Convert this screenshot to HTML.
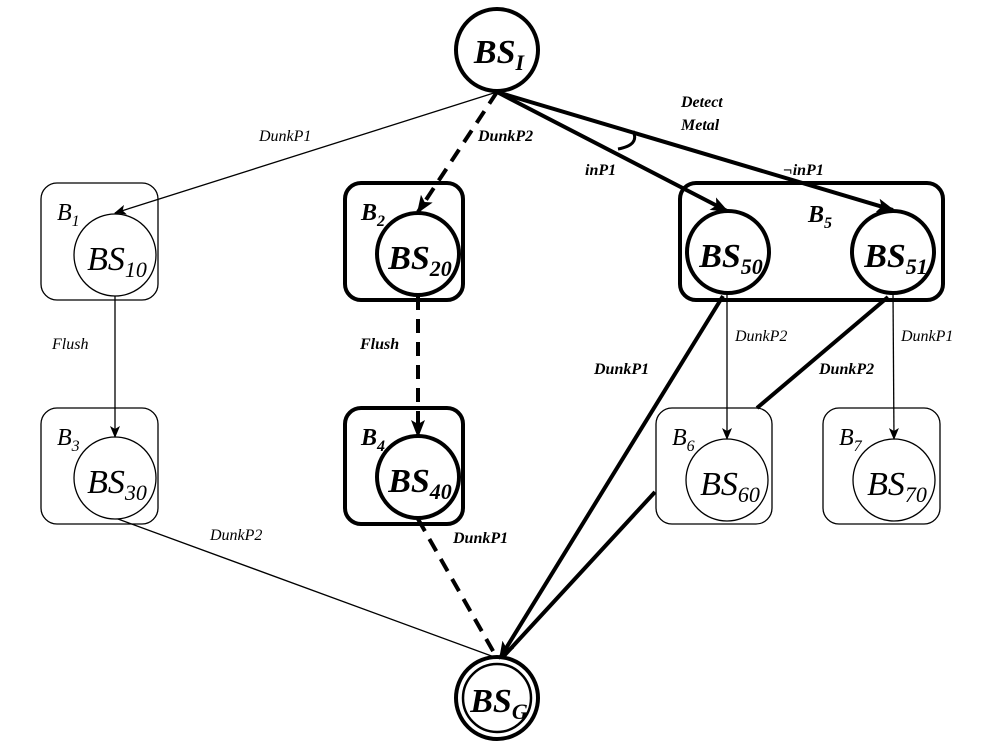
<!DOCTYPE html><html><head><style>body{margin:0;background:#fff}svg{display:block}
text{font-family:"Liberation Serif",serif;font-style:italic}</style></head><body>
<svg width="1000" height="750" viewBox="0 0 1000 750">
<defs><marker id="a" markerWidth="12" markerHeight="10" refX="11" refY="5" orient="auto" markerUnits="userSpaceOnUse"><path d="M0,0 L12,5 L0,10 L3,5z" fill="#000"/></marker>
<marker id="b" markerWidth="18" markerHeight="14" refX="16" refY="7" orient="auto" markerUnits="userSpaceOnUse"><path d="M0,0 L18,7 L0,14 L4,7z" fill="#000"/></marker></defs>
<g fill="none" stroke="#000">
<rect x="41" y="183" width="117" height="117" rx="16" stroke-width="1.3"/>
<rect x="345" y="183" width="118" height="117" rx="16" stroke-width="4"/>
<rect x="680" y="183" width="263" height="117" rx="16" stroke-width="4"/>
<rect x="41" y="408" width="117" height="116" rx="16" stroke-width="1.3"/>
<rect x="345" y="408" width="118" height="116" rx="16" stroke-width="4"/>
<rect x="656" y="408" width="116" height="116" rx="16" stroke-width="1.3"/>
<rect x="823" y="408" width="117" height="116" rx="16" stroke-width="1.3"/>
<circle cx="497" cy="50" r="41" stroke-width="4"/>
<circle cx="115" cy="255" r="41" stroke-width="1.3"/>
<circle cx="418" cy="254" r="41" stroke-width="4"/>
<circle cx="728" cy="252" r="41" stroke-width="4"/>
<circle cx="893" cy="252" r="41" stroke-width="4"/>
<circle cx="115" cy="478" r="41" stroke-width="1.3"/>
<circle cx="418" cy="477" r="41" stroke-width="4"/>
<circle cx="727" cy="480" r="41" stroke-width="1.3"/>
<circle cx="894" cy="480" r="41" stroke-width="1.3"/>
<circle cx="497" cy="698" r="41" stroke-width="4"/>
<circle cx="497" cy="698" r="34" stroke-width="2.5"/>
<line x1="497" y1="92" x2="115" y2="213" stroke-width="1.3" marker-end="url(#a)"/>
<line x1="497" y1="92" x2="418" y2="212" stroke-width="4" stroke-dasharray="14,9" marker-end="url(#b)"/>
<line x1="497" y1="92" x2="727" y2="211" stroke-width="4" marker-end="url(#b)"/>
<line x1="497" y1="92" x2="893" y2="210" stroke-width="4" marker-end="url(#b)"/>
<path d="M633,131 Q640,145 618,149" stroke-width="3"/>
<line x1="115" y1="296" x2="115" y2="437" stroke-width="1.3" marker-end="url(#a)"/>
<line x1="418" y1="296" x2="418" y2="436" stroke-width="4" stroke-dasharray="14,9" marker-end="url(#b)"/>
<line x1="727" y1="293" x2="727" y2="439" stroke-width="1.3" marker-end="url(#a)"/>
<line x1="893" y1="293" x2="894" y2="439" stroke-width="1.3" marker-end="url(#a)"/>
<line x1="723" y1="296" x2="500" y2="658" stroke-width="4" marker-end="url(#b)"/>
<line x1="888" y1="297" x2="757" y2="408" stroke-width="4"/>
<line x1="655" y1="492" x2="502" y2="658" stroke-width="4"/>
<line x1="118" y1="519" x2="497" y2="658" stroke-width="1.3"/>
<line x1="418" y1="519" x2="497" y2="658" stroke-width="4" stroke-dasharray="14,9"/>
</g>
<g font-size="34" text-anchor="middle">
<text x="499" y="63" font-weight="bold">BS<tspan font-size="22" dy="7">I</tspan></text>
<text x="117" y="270">BS<tspan font-size="22" dy="7">10</tspan></text>
<text x="420" y="269" font-weight="bold">BS<tspan font-size="22" dy="7">20</tspan></text>
<text x="731" y="267" font-weight="bold">BS<tspan font-size="22" dy="7">50</tspan></text>
<text x="896" y="267" font-weight="bold">BS<tspan font-size="22" dy="7">51</tspan></text>
<text x="117" y="493">BS<tspan font-size="22" dy="7">30</tspan></text>
<text x="420" y="492" font-weight="bold">BS<tspan font-size="22" dy="7">40</tspan></text>
<text x="730" y="495">BS<tspan font-size="22" dy="7">60</tspan></text>
<text x="897" y="495">BS<tspan font-size="22" dy="7">70</tspan></text>
<text x="499" y="712" font-weight="bold">BS<tspan font-size="22" dy="7">G</tspan></text>
</g>
<g font-size="24">
<text x="57" y="220">B<tspan font-size="16" dy="6">1</tspan></text>
<text x="361" y="220" font-weight="bold">B<tspan font-size="16" dy="6">2</tspan></text>
<text x="808" y="222" font-weight="bold">B<tspan font-size="16" dy="6">5</tspan></text>
<text x="57" y="445">B<tspan font-size="16" dy="6">3</tspan></text>
<text x="361" y="445" font-weight="bold">B<tspan font-size="16" dy="6">4</tspan></text>
<text x="672" y="445">B<tspan font-size="16" dy="6">6</tspan></text>
<text x="839" y="445">B<tspan font-size="16" dy="6">7</tspan></text>
</g>
<g font-size="16">
<text x="259" y="141">DunkP1</text>
<text x="478" y="141" font-weight="bold">DunkP2</text>
<text x="585" y="175" font-weight="bold">inP1</text>
<text x="681" y="107" font-weight="bold">Detect</text>
<text x="681" y="130" font-weight="bold">Metal</text>
<text x="783" y="175" font-weight="bold">¬inP1</text>
<text x="52" y="349">Flush</text>
<text x="360" y="349" font-weight="bold">Flush</text>
<text x="594" y="374" font-weight="bold">DunkP1</text>
<text x="735" y="341">DunkP2</text>
<text x="819" y="374" font-weight="bold">DunkP2</text>
<text x="901" y="341">DunkP1</text>
<text x="210" y="540">DunkP2</text>
<text x="453" y="543" font-weight="bold">DunkP1</text>
</g>
</svg></body></html>
